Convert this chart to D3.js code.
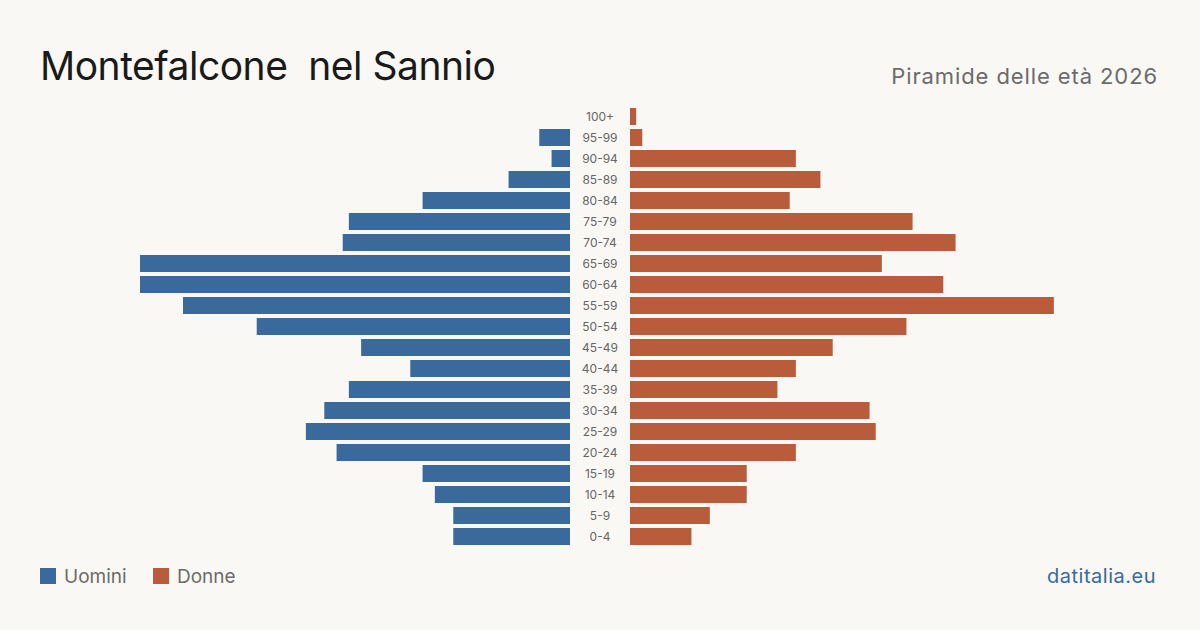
<!DOCTYPE html>
<html>
<head>
<meta charset="utf-8">
<script src="https://cdn.jsdelivr.net/npm/d3@7"></script>
<style>
  html, body { margin: 0; padding: 0; background: #f9f8f4; }
  svg { display: block; font-family: Inter, "Noto Sans", sans-serif; }
</style>
</head>
<body>
<svg id="chart" width="1200" height="630"></svg>
<script>
// age classes, top to bottom
const ageGroups = ["100+", "95-99", "90-94", "85-89", "80-84", "75-79", "70-74", "65-69", "60-64",
  "55-59", "50-54", "45-49", "40-44", "35-39", "30-34", "25-29", "20-24", "15-19", "10-14", "5-9", "0-4"];
const men   = [0, 5, 3, 10, 24, 36, 37, 70, 70, 63, 51, 34, 26, 36, 40, 43, 38, 24, 22, 19, 19];
const women = [1, 2, 27, 31, 26, 46, 53, 41, 51, 69, 45, 33, 27, 24, 39, 40, 27, 19, 19, 13, 10];

const BLUE = "#3a6a9b";
const ORANGE = "#b95c3c";

const svg = d3.select("#chart");
svg.append("rect").attr("width", 1200).attr("height", 630).attr("fill", "#f9f8f4");

const y = d3.scaleBand().domain(ageGroups).range([108, 545]).paddingInner(4 / 21).paddingOuter(0);
const xLeft = d3.scaleLinear().domain([0, 70]).range([570, 140]);
const xRight = d3.scaleLinear().domain([0, 70]).range([630, 1060]);

const rows = ageGroups.map((a, i) => ({ age: a, m: men[i], f: women[i] }));

svg.append("g").selectAll("rect").data(rows).enter().append("rect")
  .attr("x", d => xLeft(d.m))
  .attr("y", d => y(d.age))
  .attr("width", d => xLeft(0) - xLeft(d.m))
  .attr("height", y.bandwidth())
  .attr("fill", BLUE);

svg.append("g").selectAll("rect").data(rows).enter().append("rect")
  .attr("x", xRight(0))
  .attr("y", d => y(d.age))
  .attr("width", d => xRight(d.f) - xRight(0))
  .attr("height", y.bandwidth())
  .attr("fill", ORANGE);

svg.append("g").selectAll("text").data(rows).enter().append("text")
  .attr("x", 600)
  .attr("y", d => y(d.age) + y.bandwidth() / 2)
  .attr("dy", "0.35em")
  .attr("text-anchor", "middle")
  .attr("font-size", 12)
  .attr("fill", "#666")
  .text(d => d.age);

// header
svg.append("text").attr("x", 40).attr("y", 80)
  .attr("font-size", 39).attr("letter-spacing", -0.5).attr("fill", "#1a1a1a")
  .text("Montefalcone  nel Sannio").style("white-space", "pre");
svg.append("text").attr("x", 1158).attr("y", 84)
  .attr("text-anchor", "end").attr("font-size", 22).attr("letter-spacing", 0.9).attr("fill", "#6b6b6b")
  .text("Piramide delle età 2026");

// legend
const legend = [{ label: "Uomini", color: BLUE, x: 40 }, { label: "Donne", color: ORANGE, x: 153 }];
const lg = svg.append("g").selectAll("g").data(legend).enter().append("g");
lg.append("rect").attr("x", d => d.x).attr("y", 568).attr("width", 16).attr("height", 16).attr("fill", d => d.color);
lg.append("text").attr("x", d => d.x + 24).attr("y", 583)
  .attr("font-size", 19).attr("fill", "#6b6b6b").text(d => d.label);

svg.append("text").attr("x", 1156).attr("y", 583)
  .attr("text-anchor", "end").attr("font-size", 20).attr("letter-spacing", 0.5).attr("fill", BLUE)
  .text("datitalia.eu");
</script>
</body>
</html>
